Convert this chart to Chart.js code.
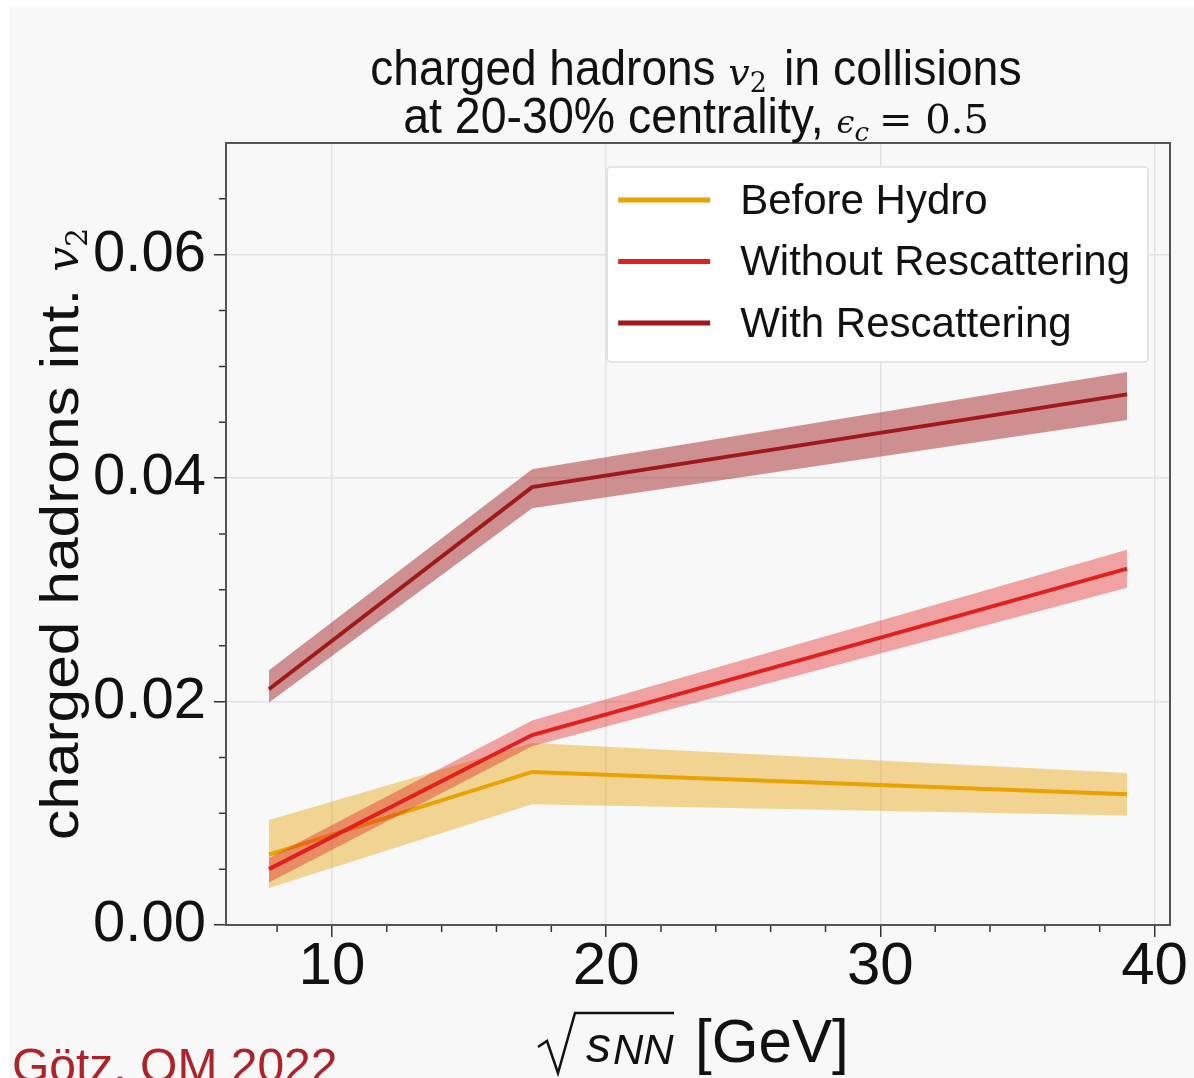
<!DOCTYPE html>
<html>
<head>
<meta charset="utf-8">
<title>charged hadrons v2 vs sqrt(sNN)</title>
<script src="https://cdn.jsdelivr.net/npm/chart.js@4.4.1/dist/chart.umd.min.js"></script>
<style>
	html, body { margin: 0; padding: 0; background: #fff; }
	canvas { display: block; }
</style>
</head>
<body>
<canvas id="v2Chart" width="1194" height="1078"></canvas>
<script>
// Collision energies (GeV)
const energies = [7.7, 17.3, 39];

// Integrated v2 of charged hadrons, with band edges
const beforeHydro = [0.0063, 0.0137, 0.0117];
const beforeHydroLow = [0.0033, 0.0108, 0.0098];
const beforeHydroHigh = [0.0094, 0.0163, 0.0136];

const withoutResc = [0.0050, 0.0170, 0.0319];
const withoutRescLow = [0.0038, 0.0160, 0.0302];
const withoutRescHigh = [0.0060, 0.0183, 0.0336];

const withResc = [0.0211, 0.0392, 0.0475];
const withRescLow = [0.0199, 0.0373, 0.0452];
const withRescHigh = [0.0228, 0.0408, 0.0495];

const seriesLabels = ['Before Hydro', 'Without Rescattering', 'With Rescattering'];
const lineColors = ['#e8a202', '#e0201f', '#9e1a1a'];
const bandColors = ['rgba(232, 162, 2, 0.42)', 'rgba(224, 32, 31, 0.40)', 'rgba(158, 26, 26, 0.47)'];

// Axis ticks
const xMajorTicks = [10, 20, 30, 40];
const xMinorTicks = [8, 12, 14, 16, 18, 22, 24, 26, 28, 32, 34, 36, 38];
const yMajorTicks = [0, 0.02, 0.04, 0.06];
const yMinorTicks = [0.005, 0.01, 0.015, 0.025, 0.03, 0.035, 0.045, 0.05, 0.055, 0.065];

const xMin = 6.135, xMax = 40.565;
const yMin = 0, yMax = 0.07;

const SANS = "'Liberation Sans', Arial, sans-serif";
const SERIF = "'DejaVu Serif', 'Liberation Serif', serif";

function pts(ys) {
	return energies.map((x, i) => ({ x, y: ys[i] }));
}

function buildDatasets() {
	const groups = [
		[beforeHydro, beforeHydroLow, beforeHydroHigh],
		[withoutResc, withoutRescLow, withoutRescHigh],
		[withResc, withRescLow, withRescHigh]
	];
	const out = [];
	groups.forEach((g, i) => {
		const base = 10 - i * 3; // higher order is drawn first
		out.push({
			label: seriesLabels[i] + ' upper',
			data: pts(g[2]),
			borderWidth: 0,
			pointRadius: 0,
			backgroundColor: bandColors[i],
			fill: '+1',
			order: base
		});
		out.push({
			label: seriesLabels[i] + ' lower',
			data: pts(g[1]),
			borderWidth: 0,
			pointRadius: 0,
			fill: false,
			order: base
		});
		out.push({
			label: seriesLabels[i],
			data: pts(g[0]),
			borderColor: lineColors[i],
			borderWidth: 4,
			pointRadius: 0,
			fill: false,
			order: base - 1
		});
	});
	return out;
}

// Text runs with mixed fonts; sx squeezes or stretches a piece
function richWidth(ctx, parts) {
	let w = 0;
	parts.forEach(p => {
		ctx.font = p.f;
		w += ctx.measureText(p.t).width * (p.sx || 1) + (p.gap || 0);
	});
	return w;
}

function drawRich(ctx, parts, cx, y) {
	let x = cx - richWidth(ctx, parts) / 2;
	ctx.textAlign = 'left';
	ctx.textBaseline = 'alphabetic';
	parts.forEach(p => {
		ctx.font = p.f;
		const sx = p.sx || 1;
		ctx.save();
		ctx.translate(x, y + (p.dy || 0));
		ctx.scale(sx, 1);
		ctx.fillText(p.t, 0, 0);
		ctx.restore();
		x += ctx.measureText(p.t).width * sx + (p.gap || 0);
	});
}

const backdrop = {
	id: 'backdrop',
	beforeDraw(chart) {
		const ctx = chart.ctx;
		ctx.save();
		ctx.fillStyle = '#ffffff';
		ctx.fillRect(0, 0, chart.width, chart.height);
		ctx.fillStyle = '#f8f8f8';
		ctx.fillRect(9, 7, chart.width - 9, chart.height - 7);
		ctx.restore();
	}
};

const decorations = {
	id: 'decorations',
	afterDraw(chart) {
		const ctx = chart.ctx;
		const a = chart.chartArea;
		const xs = chart.scales.x, ys = chart.scales.y;
		const cx = (a.left + a.right) / 2;
		ctx.save();

		// minor ticks
		ctx.strokeStyle = '#333';
		ctx.lineWidth = 1.5;
		ctx.beginPath();
		yMinorTicks.forEach(v => {
			const y = ys.getPixelForValue(v);
			ctx.moveTo(a.left - 7, y);
			ctx.lineTo(a.left, y);
		});
		xMinorTicks.forEach(v => {
			const x = xs.getPixelForValue(v);
			ctx.moveTo(x, a.bottom);
			ctx.lineTo(x, a.bottom + 7);
		});
		ctx.stroke();

		// frame
		ctx.strokeStyle = '#555';
		ctx.lineWidth = 2;
		ctx.strokeRect(a.left, a.top, a.right - a.left, a.bottom - a.top);

		// legend
		ctx.font = '42px ' + SANS;
		const textW = Math.max(...seriesLabels.map(s => ctx.measureText(s).width));
		const boxW = 133 + textW + 18;
		const boxH = 195;
		const bx = a.right - 22 - boxW;
		const by = a.top + 24;
		ctx.fillStyle = '#ffffff';
		ctx.strokeStyle = '#dedede';
		ctx.lineWidth = 1.5;
		ctx.beginPath();
		ctx.roundRect(bx, by, boxW, boxH, 4);
		ctx.fill();
		ctx.stroke();
		seriesLabels.forEach((label, i) => {
			const ly = by + 33 + i * 61.5;
			ctx.strokeStyle = lineColors[i];
			ctx.lineWidth = 5;
			ctx.beginPath();
			ctx.moveTo(bx + 11, ly);
			ctx.lineTo(bx + 103, ly);
			ctx.stroke();
			ctx.fillStyle = '#111';
			ctx.font = '42px ' + SANS;
			ctx.textAlign = 'left';
			ctx.textBaseline = 'middle';
			ctx.fillText(label, bx + 133, ly + 2);
		});

		// title
		ctx.fillStyle = '#111';
		drawRich(ctx, [
			{ t: 'charged hadrons ', f: '50px ' + SANS, sx: 0.92 },
			{ t: 'v', f: 'italic 38px ' + SERIF },
			{ t: '2', f: '27px ' + SERIF, dy: 7, gap: 4 },
			{ t: ' in collisions', f: '50px ' + SANS, sx: 0.93 }
		], cx - 2, 85);
		drawRich(ctx, [
			{ t: 'at 20-30% centrality, ', f: '50px ' + SANS, sx: 0.93 },
			{ t: 'ϵ', f: 'italic 32px ' + SERIF },
			{ t: 'c', f: 'italic 26px ' + SERIF, dy: 8, gap: 10 },
			{ t: '= 0.5', f: '40px ' + SERIF }
		], cx - 2, 133);

		// x axis title: radical sign drawn as a stroke, then s_NN [GeV]
		const x0 = cx - 160;
		ctx.strokeStyle = '#111';
		ctx.lineWidth = 2.5;
		ctx.lineJoin = 'miter';
		ctx.beginPath();
		ctx.moveTo(x0, 1047);
		ctx.lineTo(x0 + 9, 1041);
		ctx.lineTo(x0 + 20, 1073);
		ctx.lineTo(x0 + 37, 1013);
		ctx.lineTo(x0 + 136, 1013);
		ctx.stroke();
		ctx.fillStyle = '#111';
		ctx.textAlign = 'left';
		ctx.textBaseline = 'alphabetic';
		ctx.font = 'italic 50px ' + SANS;
		ctx.fillText('s', x0 + 48, 1062);
		const sW = ctx.measureText('s').width;
		ctx.font = 'italic 42px ' + SANS;
		ctx.fillText('NN', x0 + 50 + sW, 1064);
		ctx.font = '62px ' + SANS;
		ctx.save();
		ctx.translate(x0 + 157, 1062);
		ctx.scale(0.97, 1);
		ctx.fillText('[GeV]', 0, 0);
		ctx.restore();

		// y axis title
		ctx.save();
		ctx.translate(60, (a.top + a.bottom) / 2);
		ctx.rotate(-Math.PI / 2);
		ctx.fillStyle = '#111';
		drawRich(ctx, [
			{ t: 'charged hadrons int. ', f: '54px ' + SANS, sx: 1.12 },
			{ t: 'v', f: 'italic 44px ' + SERIF },
			{ t: '2', f: '30px ' + SERIF, dy: 9 }
		], 0, 18);
		ctx.restore();

		// credit
		ctx.fillStyle = '#b0222a';
		ctx.font = '48px ' + SANS;
		ctx.textAlign = 'left';
		ctx.textBaseline = 'alphabetic';
		ctx.fillText('Götz, QM 2022', 12, 1082);

		ctx.restore();
	}
};

function tickList(major) {
	return major.map(v => ({ value: v, major: true }));
}

const ctx = document.getElementById('v2Chart').getContext('2d');
new Chart(ctx, {
	type: 'line',
	data: { datasets: buildDatasets() },
	options: {
		responsive: false,
		animation: false,
		layout: { padding: { top: 143, right: 24, left: 0, bottom: 0 } },
		plugins: {
			legend: { display: false },
			tooltip: { enabled: false },
			filler: { propagate: false }
		},
		scales: {
			x: {
				type: 'linear',
				min: xMin,
				max: xMax,
				afterBuildTicks: scale => { scale.ticks = tickList(xMajorTicks); },
				afterFit: scale => { scale.height = 153; },
				border: { display: false },
				grid: {
					color: '#e2e2e2',
					lineWidth: 1.5,
					tickColor: '#333',
					tickLength: 12,
					tickWidth: 1.5
				},
				ticks: {
					autoSkip: false,
					maxRotation: 0,
					padding: 0,
					color: '#111',
					font: { family: SANS, size: 60, lineHeight: 1 },
					callback: v => String(v)
				}
			},
			y: {
				type: 'linear',
				min: yMin,
				max: yMax,
				afterBuildTicks: scale => { scale.ticks = tickList(yMajorTicks); },
				afterFit: scale => { scale.width = 226; },
				border: { display: false },
				grid: {
					color: ctx => (ctx.tick && ctx.tick.value === 0 ? 'transparent' : '#e2e2e2'),
					lineWidth: 1.5,
					tickColor: '#333',
					tickLength: 12,
					tickWidth: 1.5
				},
				ticks: {
					autoSkip: false,
					padding: 8,
					color: '#111',
					font: { family: SANS, size: 58 },
					callback: v => Number(v).toFixed(2)
				}
			}
		}
	},
	plugins: [backdrop, decorations]
});
</script>
</body>
</html>
